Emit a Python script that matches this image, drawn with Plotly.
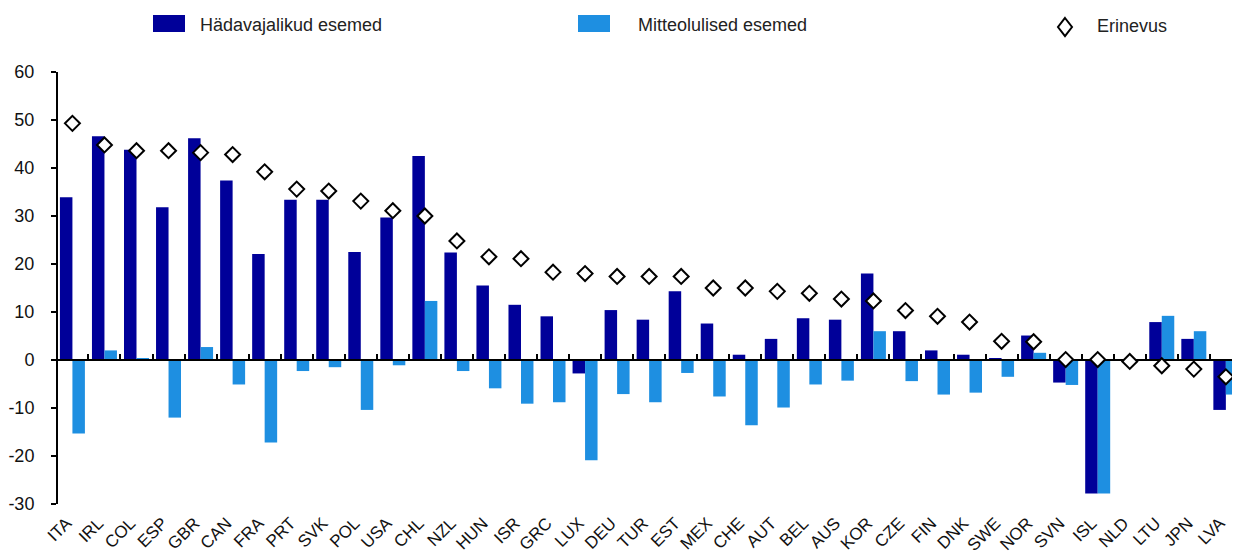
import plotly.graph_objects as go

categories = ["ITA", "IRL", "COL", "ESP", "GBR", "CAN", "FRA", "PRT", "SVK", "POL", "USA", "CHL",
              "NZL", "HUN", "ISR", "GRC", "LUX", "DEU", "TUR", "EST", "MEX", "CHE", "AUT", "BEL",
              "AUS", "KOR", "CZE", "FIN", "DNK", "SWE", "NOR", "SVN", "ISL", "NLD", "LTU", "JPN", "LVA"]
essential = [33.9, 46.6, 43.8, 31.8, 46.2, 37.4, 22.1, 33.4, 33.4, 22.5, 29.7, 42.5,
             22.4, 15.5, 11.5, 9.1, -2.8, 10.4, 8.4, 14.3, 7.6, 1.1, 4.4, 8.7,
             8.4, 18.0, 6.0, 2.0, 1.1, 0.4, 5.1, -4.7, -27.8, 0.2, 7.9, 4.4, -10.4]
nonessential = [-15.3, 2.0, 0.3, -12.0, 2.7, -5.1, -17.2, -2.3, -1.5, -10.4, -1.1, 12.3,
                -2.3, -5.9, -9.1, -8.8, -20.9, -7.1, -8.8, -2.7, -7.6, -13.6, -9.9, -5.1,
                -4.3, 6.0, -4.4, -7.2, -6.8, -3.5, 1.5, -5.2, -27.8, 0.2, 9.2, 6.0, -7.2]
difference = [49.3, 44.8, 43.6, 43.6, 43.2, 42.8, 39.2, 35.6, 35.2, 33.1, 31.1, 30.0,
              24.8, 21.5, 21.1, 18.3, 18.0, 17.4, 17.4, 17.4, 15.0, 15.0, 14.3, 13.9,
              12.7, 12.3, 10.3, 9.1, 7.9, 3.9, 3.8, 0.1, 0.1, -0.3, -1.2, -1.9, -3.5]
series_names = ["Hädavajalikud esemed", "Mitteolulised esemed", "Erinevus"]
y_ticks = [-30, -20, -10, 0, 10, 20, 30, 40, 50, 60]

DARK = "#000099"
LIGHT = "#1E8FE1"
OFF = 8  # page body margin
W, H = 1240 - OFF, 554 - OFF
ML, MR, MT, MB = 58 - OFF, 0, 72 - OFF, 50
PW, PH = W - ML - MR, H - MT - MB
YMIN, YMAX = y_ticks[0], y_ticks[-1]
n = len(categories)
xr = [-0.45, -0.45 + PW / 32.04]
idx = list(range(n))

def px(xp):  # page pixel -> paper fraction
    return (xp - OFF - ML) / PW

def py(yp):
    return (H - MB - (yp - OFF)) / PH

fig = go.Figure()
fig.add_trace(go.Bar(x=categories, y=essential, name=series_names[0], marker_color=DARK,
                     marker_line_width=0))
fig.add_trace(go.Bar(x=categories, y=nonessential, name=series_names[1], marker_color=LIGHT,
                     marker_line_width=0))
# zero line (on overlay axis so it sits above bars, below diamonds)
fig.add_trace(go.Scatter(x=[-0.5, n - 0.5], y=[0, 0], mode="lines", xaxis="x2", yaxis="y",
                         line=dict(color="black", width=2), hoverinfo="skip", showlegend=False))
fig.add_trace(go.Scatter(x=idx, y=difference, name=series_names[2], mode="markers", xaxis="x2",
                         yaxis="y", text=categories,
                         marker=dict(symbol="diamond", size=11.5, color="white",
                                     line=dict(color="black", width=2))))

fig.update_layout(
    width=W, height=H,
    margin=dict(l=ML, r=MR, t=MT, b=MB),
    paper_bgcolor="white", plot_bgcolor="white",
    barmode="group", bargap=0.22, bargroupgap=0,
    showlegend=False,
    font=dict(family="Arial, Liberation Sans, sans-serif", color="#111"),
    xaxis=dict(type="category", categoryorder="array", categoryarray=categories,
               range=xr, showline=False, ticks="", showgrid=False, zeroline=False,
               automargin=False, tickangle=-45, ticklabelshift=-6, ticklabelstandoff=5,
               tickfont=dict(size=17, color="#111")),
    xaxis2=dict(type="linear", overlaying="x", anchor="free",
                position=(0 - YMIN) / (YMAX - YMIN), range=xr,
                showline=False, showgrid=False, zeroline=False, showticklabels=False,
                ticks="inside", tick0=0.5, dtick=1, ticklen=6, tickwidth=1.5, tickcolor="black"),
    yaxis=dict(range=[YMIN, YMAX], tickmode="array", tickvals=y_ticks,
               ticktext=[str(v) for v in y_ticks], showgrid=False, zeroline=False,
               showline=True, linecolor="black", linewidth=2, automargin=False,
               ticks="outside", ticklen=5, tickwidth=1.5, tickcolor="black",
               ticklabelstandoff=13, tickfont=dict(size=18, color="#111")),
)

# legend drawn manually across the top
legend_items = [
    (153, 185, DARK, 198, series_names[0]),
    (578, 610, LIGHT, 636, series_names[1]),
]
for x0, x1, col, tx, label in legend_items:
    fig.add_shape(type="rect", xref="paper", yref="paper", x0=px(x0), x1=px(x1),
                  y0=py(32), y1=py(15), fillcolor=col, line=dict(width=0))
    fig.add_annotation(xref="paper", yref="paper", x=px(tx), y=py(25), text=label,
                       showarrow=False, xanchor="left", yanchor="middle",
                       font=dict(size=18, color="#222"))
cx, cy = 1065, 27
fig.add_shape(type="path", xref="paper", yref="paper",
              path=f"M {px(cx)} {py(cy - 9)} L {px(cx + 7)} {py(cy)} L {px(cx)} {py(cy + 9)} L {px(cx - 7)} {py(cy)} Z",
              fillcolor="white", line=dict(color="black", width=2))
fig.add_annotation(xref="paper", yref="paper", x=px(1095), y=py(26), text=series_names[2],
                   showarrow=False, xanchor="left", yanchor="middle",
                   font=dict(size=18, color="#222"))

fig.write_html("out.html")
